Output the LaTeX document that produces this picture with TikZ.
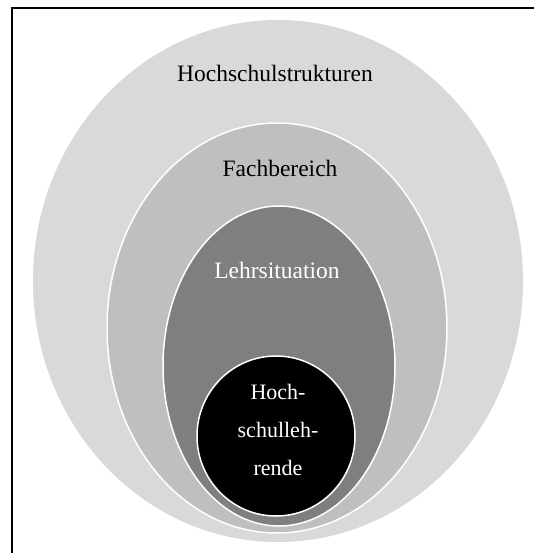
\documentclass[tikz,border=0pt]{standalone}
\usepackage{fontspec}
\setmainfont{Liberation Serif}
\definecolor{ringouter}{HTML}{D9D9D9}
\definecolor{ringmid}{HTML}{BFBFBF}
\definecolor{ringinner}{HTML}{7F7F7F}
\tikzset{
  ring/.style={draw=white, line width=1.5pt},
  ringlabel/.style={font=\fontsize{23.5}{28}\selectfont, inner sep=0pt}
}
\begin{document}
\begin{tikzpicture}[x=1pt, y=-1pt]
    \useasboundingbox (0,0) rectangle (534,553);

    % Frame (cut at right and bottom)
    \draw[line width=2.8pt] (12,553) -- (12,8) -- (534,8);

    % Outer ring: Hochschulstrukturen
    \fill[ringouter] (278,281) ellipse [x radius=245, y radius=261];
    \node[ringlabel] (struktur) at (275,73) {Hochschulstrukturen};

    % Ring 2: Fachbereich
    \draw[ring, fill=ringmid] (277,328) ellipse [x radius=170, y radius=205];
    \node[ringlabel] (fach) at (280,168) {Fachbereich};

    % Ring 3: Lehrsituation
    \draw[ring, fill=ringinner] (279,366) ellipse [x radius=116, y radius=160];
    \node[ringlabel, text=white] (lehr) at (277,270) {Lehrsituation};

    % Core: Hochschullehrende
    \draw[ring, fill=black] (276,436) ellipse [x radius=79, y radius=80];
    \node[ringlabel, text=white, align=center, font=\fontsize{22}{38}\selectfont]
        (lehrende) at (278,430) {Hoch-\\schulleh-\\rende};
\end{tikzpicture}
\end{document}
